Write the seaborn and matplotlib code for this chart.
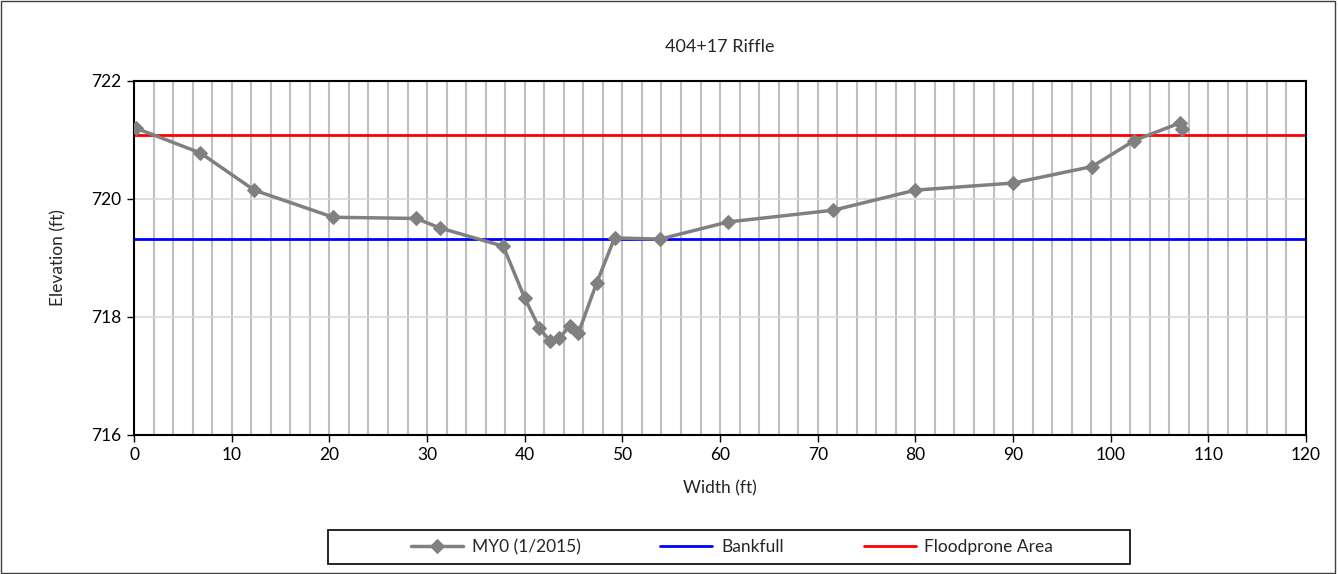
import numpy as np
import pandas as pd
import matplotlib
matplotlib.use("Agg")
import matplotlib.pyplot as plt
import seaborn as sns
from matplotlib.patches import Rectangle

# cross-section survey, MY0 (1/2015)
station = [0.2, 6.8, 12.3, 20.4, 28.9, 31.3, 37.8, 40.0, 41.5, 42.6, 43.5, 44.6, 45.5,
           47.35, 49.2, 53.85, 60.8, 71.6, 80.0, 90.0, 98.1, 102.4, 107.1, 107.3]
elevation = [721.2, 720.78, 720.15, 719.69, 719.67, 719.51, 719.2, 718.32, 717.81, 717.59,
             717.64, 717.84, 717.73, 718.57, 719.34, 719.32, 719.61, 719.81, 720.15, 720.27,
             720.55, 720.99, 721.29, 721.19]
bankfull = 719.33
floodprone = 721.08

xsec = pd.DataFrame({"Width": station, "Elevation": elevation})

sns.set_style("white")
plt.rcParams["font.family"] = ["Lato", "DejaVu Sans"]

fig = plt.figure(figsize=(13.38, 5.74), dpi=100)
ax = fig.add_axes([0.1002, 0.2422, 0.8759, 0.6167])

# gridlines
for gx in np.arange(2, 120, 2):
    ax.axvline(gx, color="#bfbfbf", lw=1.5, zorder=0)
for gy in [718, 720]:
    ax.axhline(gy, color="#d9d9d9", lw=1.2, zorder=0)

sns.lineplot(data=xsec, x="Width", y="Elevation", sort=False, estimator=None,
             color="#808080", lw=2.5, marker="D", markersize=7.5, markeredgecolor="#808080",
             label="MY0 (1/2015)", ax=ax, zorder=3)
ax.axhline(bankfull, color="#0000ff", lw=2, label="Bankfull", zorder=2)
ax.axhline(floodprone, color="#ff0000", lw=2, label="Floodprone Area", zorder=2)

ax.set_xlim(0, 120)
ax.set_ylim(716, 722)
ax.set_xticks(np.arange(0, 121, 10))
ax.set_yticks([716, 718, 720, 722])
ax.tick_params(direction="out", length=5, width=1, colors="black", labelsize=12.5, pad=4)
ax.tick_params(axis="y", left=True)
ax.tick_params(axis="x", bottom=True)
for s in ax.spines.values():
    s.set_color("black")
    s.set_linewidth(1.5)

ax.set_title("404+17 Riffle", fontsize=13, pad=21)
ax.set_xlabel("Width (ft)", fontsize=12.5, labelpad=12)
ax.set_ylabel("Elevation (ft)", fontsize=12.5, labelpad=18)

# legend: frame drawn separately, entries centred inside
ax.get_legend().remove()
handles, labels = ax.get_legend_handles_labels()
fig.patches.append(Rectangle((328 / 1338, 1 - 564 / 574), 802 / 1338, 34 / 574,
                             transform=fig.transFigure, fill=False, edgecolor="black", lw=1.2))
fig.legend(handles, labels, loc="center", ncol=3,
           bbox_to_anchor=(732 / 1338, 1 - 547 / 574),
           frameon=False, fontsize=12.5, handlelength=3.0, handletextpad=0.5,
           columnspacing=4.6, borderaxespad=0)

fig.patches.append(Rectangle((0.001, 0.002), 0.997, 0.996, transform=fig.transFigure,
                             fill=False, edgecolor="#404040", lw=1))

fig.savefig("out.png", dpi=100)
